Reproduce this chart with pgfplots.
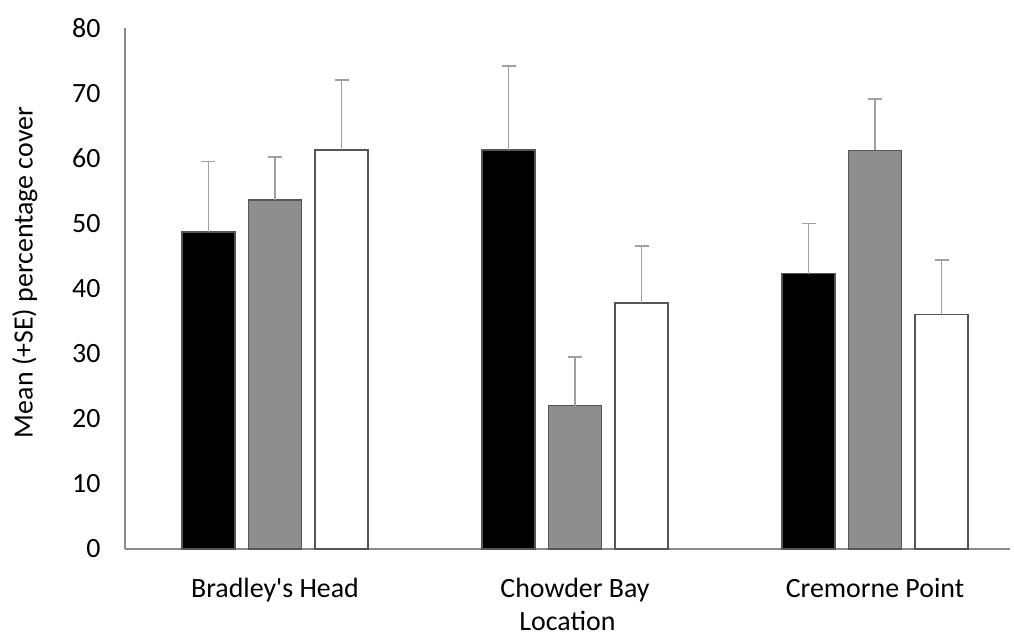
\documentclass[border=0pt]{standalone}
\usepackage{pgfplots}
\pgfplotsset{compat=1.18}
\usepackage{fontspec}
\setmainfont{Carlito}
\definecolor{barline}{HTML}{555555}
\definecolor{midgray}{HTML}{8E8E8E}
\definecolor{errgray}{HTML}{A0A0A0}
\definecolor{axisgray}{HTML}{8A8A8A}
\begin{document}
\begin{tikzpicture}
\useasboundingbox (-125bp,-92bp) rectangle (889bp,549bp);
\begin{axis}[
  at={(0,0)}, anchor=south west,
  scale only axis,
  width=885bp, height=521bp,
  xmin=-0.5, xmax=2.45,
  ymin=0, ymax=80,
  ytick={0,10,...,80},
  xtick={0,1,2},
  xticklabels={Bradley\textquotesingle s Head, Chowder Bay, Cremorne Point},
  axis x line*=bottom, axis y line*=left,
  axis line style={-, draw=axisgray, line width=1.3bp},
  major tick length=0pt,
  tick style={draw=none},
  font=\fontsize{28}{33}\selectfont,
  /pgf/number format/assume math mode=true,
  yticklabel style={xshift=-21bp},
  xticklabel style={yshift=-26bp},
  xlabel={Location},
  ylabel={Mean (+SE) percentage cover},
  xlabel style={yshift=-2bp},
  ylabel style={yshift=28bp, xshift=16bp},
  ybar=13.5bp,
  bar width=53bp,
  error bars/y dir=plus,
  error bars/y explicit,
  error bars/error bar style={draw=errgray, line width=1.6bp},
  error bars/error mark options={draw=errgray, line width=1.6bp, mark size=7bp, rotate=90},
]
\addplot[fill=black, draw=barline, line width=1.5bp] coordinates {
  (0,48.7) +- (0,10.8)
  (1,61.3) +- (0,12.9)
  (2,42.3) +- (0,7.7)
};
\addplot[fill=midgray, draw=barline, line width=1.5bp] coordinates {
  (0,53.6) +- (0,6.6)
  (1,22.0) +- (0,7.5)
  (2,61.2) +- (0,7.9)
};
\addplot[fill=white, draw=barline, line width=1.5bp] coordinates {
  (0,61.3) +- (0,10.7)
  (1,37.8) +- (0,8.7)
  (2,36.0) +- (0,8.4)
};
\end{axis}
\end{tikzpicture}
\end{document}
